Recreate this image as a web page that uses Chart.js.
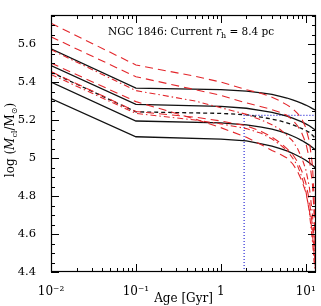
<!DOCTYPE html>
<html>
<head>
<meta charset="utf-8">
<script src="https://cdn.jsdelivr.net/npm/chart.js@4.4.0/dist/chart.umd.min.js"></script>
<style>
  html, body { margin: 0; padding: 0; background: #fff; }
  #wrap { width: 321px; height: 306px; position: relative; }
</style>
</head>
<body>
<div id="wrap"><canvas id="chart" width="321" height="306"></canvas></div>
<script>
// Age grids (Gyr)
const agesBlack = [0.01, 0.1, 1, 2, 3, 4, 5, 6, 7, 8, 9, 10, 11, 12, 13.2];
const agesRed = [0.01, 0.1, 0.5, 1, 2, 3, 4, 5, 6, 7, 8, 9, 10, 11, 12, 12.5, 13];

// log(M_cl / M_sun), black model tracks
const black1 = [5.575, 5.368, 5.36, 5.352, 5.343, 5.335, 5.325, 5.316, 5.306, 5.297, 5.288, 5.279, 5.27, 5.26, 5.25];
const black2 = [5.487, 5.283, 5.272, 5.262, 5.25, 5.24, 5.23, 5.22, 5.21, 5.2, 5.19, 5.18, 5.17, 5.158, 5.145];
const blackDash = [5.452, 5.243, 5.235, 5.228, 5.215, 5.205, 5.195, 5.185, 5.175, 5.165, 5.155, 5.145, 5.135, 5.12, 5.1];
const black3 = [5.40, 5.195, 5.185, 5.175, 5.163, 5.152, 5.14, 5.128, 5.116, 5.104, 5.092, 5.08, 5.068, 5.055, 5.04];
const black4 = [5.313, 5.112, 5.10, 5.09, 5.075, 5.063, 5.05, 5.038, 5.025, 5.012, 5.0, 4.988, 4.975, 4.962, 4.945];

// red tracks
const red1 = [5.71, 5.49, 5.43, 5.40, 5.36, 5.34, 5.32, 5.30, 5.28, 5.26, 5.235, 5.205, 5.16, 5.09, 4.96, 4.8, 4.55];
const red2 = [5.638, 5.428, 5.36, 5.33, 5.29, 5.27, 5.255, 5.24, 5.225, 5.2, 5.17, 5.13, 5.08, 5.0, 4.86, 4.72, 4.5];
const red3 = [5.57, 5.355, 5.30, 5.265, 5.23, 5.2, 5.175, 5.15, 5.12, 5.09, 5.05, 5.0, 4.94, 4.85, 4.7, 4.58, 4.45];
const red4 = [5.50, 5.297, 5.205, 5.16, 5.11, 5.07, 5.04, 5.02, 5.0, 4.97, 4.93, 4.88, 4.82, 4.73, 4.6, 4.5, 4.42];
const red5 = [5.455, 5.245, 5.215, 5.195, 5.17, 5.14, 5.11, 5.08, 5.05, 5.02, 4.98, 4.93, 4.87, 4.78, 4.64, 4.53, 4.42];
const red6 = [5.44, 5.235, 5.2, 5.18, 5.155, 5.13, 5.1, 5.07, 5.04, 5.0, 4.96, 4.9, 4.83, 4.72, 4.56, 4.46, 4.4];

// current age / mass guide
const guideAge = [1.88, 1.88, 13.2];
const guideMass = [4.4, 5.225, 5.225];

const xTickValues = [0.01, 0.1, 1, 10];
const xTickLabels = ['10\u207B\u00B2', '10\u207B\u00B9', '1', '10\u00B9'];
const yTickValues = [4.4, 4.6, 4.8, 5.0, 5.2, 5.4, 5.6];
const yTickLabels = ['4.4', '4.6', '4.8', '5', '5.2', '5.4', '5.6'];

const X_MIN = 0.01, X_MAX = 13.2, Y_MIN = 4.4, Y_MAX = 5.753;
const SERIF = '"DejaVu Serif", "Liberation Serif", serif';

function pts(xs, ys) {
    return xs.map((x, i) => ({ x: x, y: ys[i] }));
}

function track(xs, ys, color, dash, width) {
    return {
        data: pts(xs, ys),
        borderColor: color,
        borderWidth: width,
        borderDash: dash,
        pointRadius: 0,
        tension: 0,
        fill: false
    };
}

const RED = '#e3262b';
const DASH = [8, 5];
const DASHDOT = [6, 3, 1.5, 3];

// frame, inward ticks, axis title and annotation
const decor = {
    id: 'decor',
    afterDraw(chart) {
        const ctx = chart.ctx;
        const a = chart.chartArea;
        const xs = chart.scales.x, ys = chart.scales.y;
        ctx.save();
        ctx.strokeStyle = '#000';
        ctx.lineWidth = 1.2;
        ctx.strokeRect(a.left + 0.5, a.top + 0.5, a.right - a.left - 1, a.bottom - a.top - 1);

        ctx.lineWidth = 1;
        ctx.beginPath();
        for (let e = -2; e <= 1; e++) {
            for (let k = 1; k <= 9; k++) {
                const v = k * Math.pow(10, e);
                if (v < X_MIN || v > X_MAX) continue;
                const px = Math.round(xs.getPixelForValue(v)) + 0.5;
                const len = k === 1 ? 8 : 4;
                ctx.moveTo(px, a.bottom); ctx.lineTo(px, a.bottom - len);
                ctx.moveTo(px, a.top); ctx.lineTo(px, a.top + len);
            }
        }
        for (let i = 0; ; i++) {
            const v = Y_MIN + i * 0.05;
            if (v > Y_MAX) break;
            const py = Math.round(ys.getPixelForValue(v)) + 0.5;
            const len = i % 4 === 0 ? 8 : 4;
            ctx.moveTo(a.left, py); ctx.lineTo(a.left + len, py);
            ctx.moveTo(a.right, py); ctx.lineTo(a.right - len, py);
        }
        ctx.stroke();

        ctx.fillStyle = '#000';
        ctx.textBaseline = 'alphabetic';

        // annotation
        let x = 108;
        const by = 35;
        ctx.font = '10.5px ' + SERIF;
        ctx.fillText('NGC 1846: Current ', x, by);
        x += ctx.measureText('NGC 1846: Current ').width;
        ctx.font = 'italic 10.5px ' + SERIF;
        ctx.fillText('r', x, by);
        x += ctx.measureText('r').width;
        ctx.font = '8px ' + SERIF;
        ctx.fillText('h', x, by + 3);
        x += ctx.measureText('h').width;
        ctx.font = '10.5px ' + SERIF;
        ctx.fillText(' = 8.4 pc', x, by);

        // x title
        ctx.font = '12px ' + SERIF;
        ctx.textAlign = 'center';
        ctx.fillText('Age [Gyr]', (a.left + a.right) / 2, 302);

        // y title, rotated
        ctx.translate(14, 140);
        ctx.rotate(-Math.PI / 2);
        const parts = [
            ['log (', '12px ' + SERIF, 0],
            ['M', 'italic 12px ' + SERIF, 0],
            ['cl', '8px ' + SERIF, 3],
            ['/M', '12px ' + SERIF, 0],
            ['\u2299', '8px "DejaVu Sans", sans-serif', 3],
            [')', '12px ' + SERIF, 0]
        ];
        let total = 0;
        parts.forEach(p => { ctx.font = p[1]; total += ctx.measureText(p[0]).width; });
        ctx.textAlign = 'left';
        let tx = -total / 2;
        parts.forEach(p => {
            ctx.font = p[1];
            ctx.fillText(p[0], tx, p[2]);
            tx += ctx.measureText(p[0]).width;
        });
        ctx.restore();
    }
};

new Chart(document.getElementById('chart').getContext('2d'), {
    type: 'line',
    data: {
        datasets: [
            track(agesRed, red1, RED, DASH, 1.1),
            track(agesRed, red2, RED, DASH, 1.1),
            track(agesRed, red3, RED, DASHDOT, 1.1),
            track(agesRed, red4, RED, DASH, 1.1),
            track(agesRed, red5, RED, DASH, 1.1),
            track(agesRed, red6, RED, DASHDOT, 1.1),
            track(agesBlack, black1, '#111', [], 1.3),
            track(agesBlack, black2, '#111', [], 1.3),
            track(agesBlack, blackDash, '#111', [4, 3], 1.3),
            track(agesBlack, black3, '#111', [], 1.3),
            track(agesBlack, black4, '#111', [], 1.3),
            track(guideAge, guideMass, '#2b2bd6', [1, 2], 1.2)
        ]
    },
    options: {
        responsive: false,
        animation: false,
        events: [],
        layout: { padding: { top: 15, right: 5, left: 0, bottom: 0 } },
        plugins: { legend: { display: false }, tooltip: { enabled: false } },
        scales: {
            x: {
                type: 'logarithmic',
                min: X_MIN,
                max: X_MAX,
                afterBuildTicks: s => { s.ticks = xTickValues.map(v => ({ value: v })); },
                afterFit: s => { s.height = 34; },
                ticks: {
                    autoSkip: false,
                    maxRotation: 0,
                    padding: 5,
                    color: '#000',
                    font: { family: SERIF, size: 12 },
                    callback: v => xTickLabels[xTickValues.indexOf(v)]
                },
                grid: { display: false },
                border: { display: false }
            },
            y: {
                type: 'linear',
                min: Y_MIN,
                max: Y_MAX,
                afterBuildTicks: s => { s.ticks = yTickValues.map(v => ({ value: v })); },
                afterFit: s => { s.width = 51; },
                ticks: {
                    autoSkip: false,
                    padding: 7,
                    color: '#000',
                    font: { family: SERIF, size: 11.5 },
                    callback: v => yTickLabels[yTickValues.indexOf(v)]
                },
                grid: { display: false },
                border: { display: false }
            }
        }
    },
    plugins: [decor]
});
</script>
</body>
</html>
